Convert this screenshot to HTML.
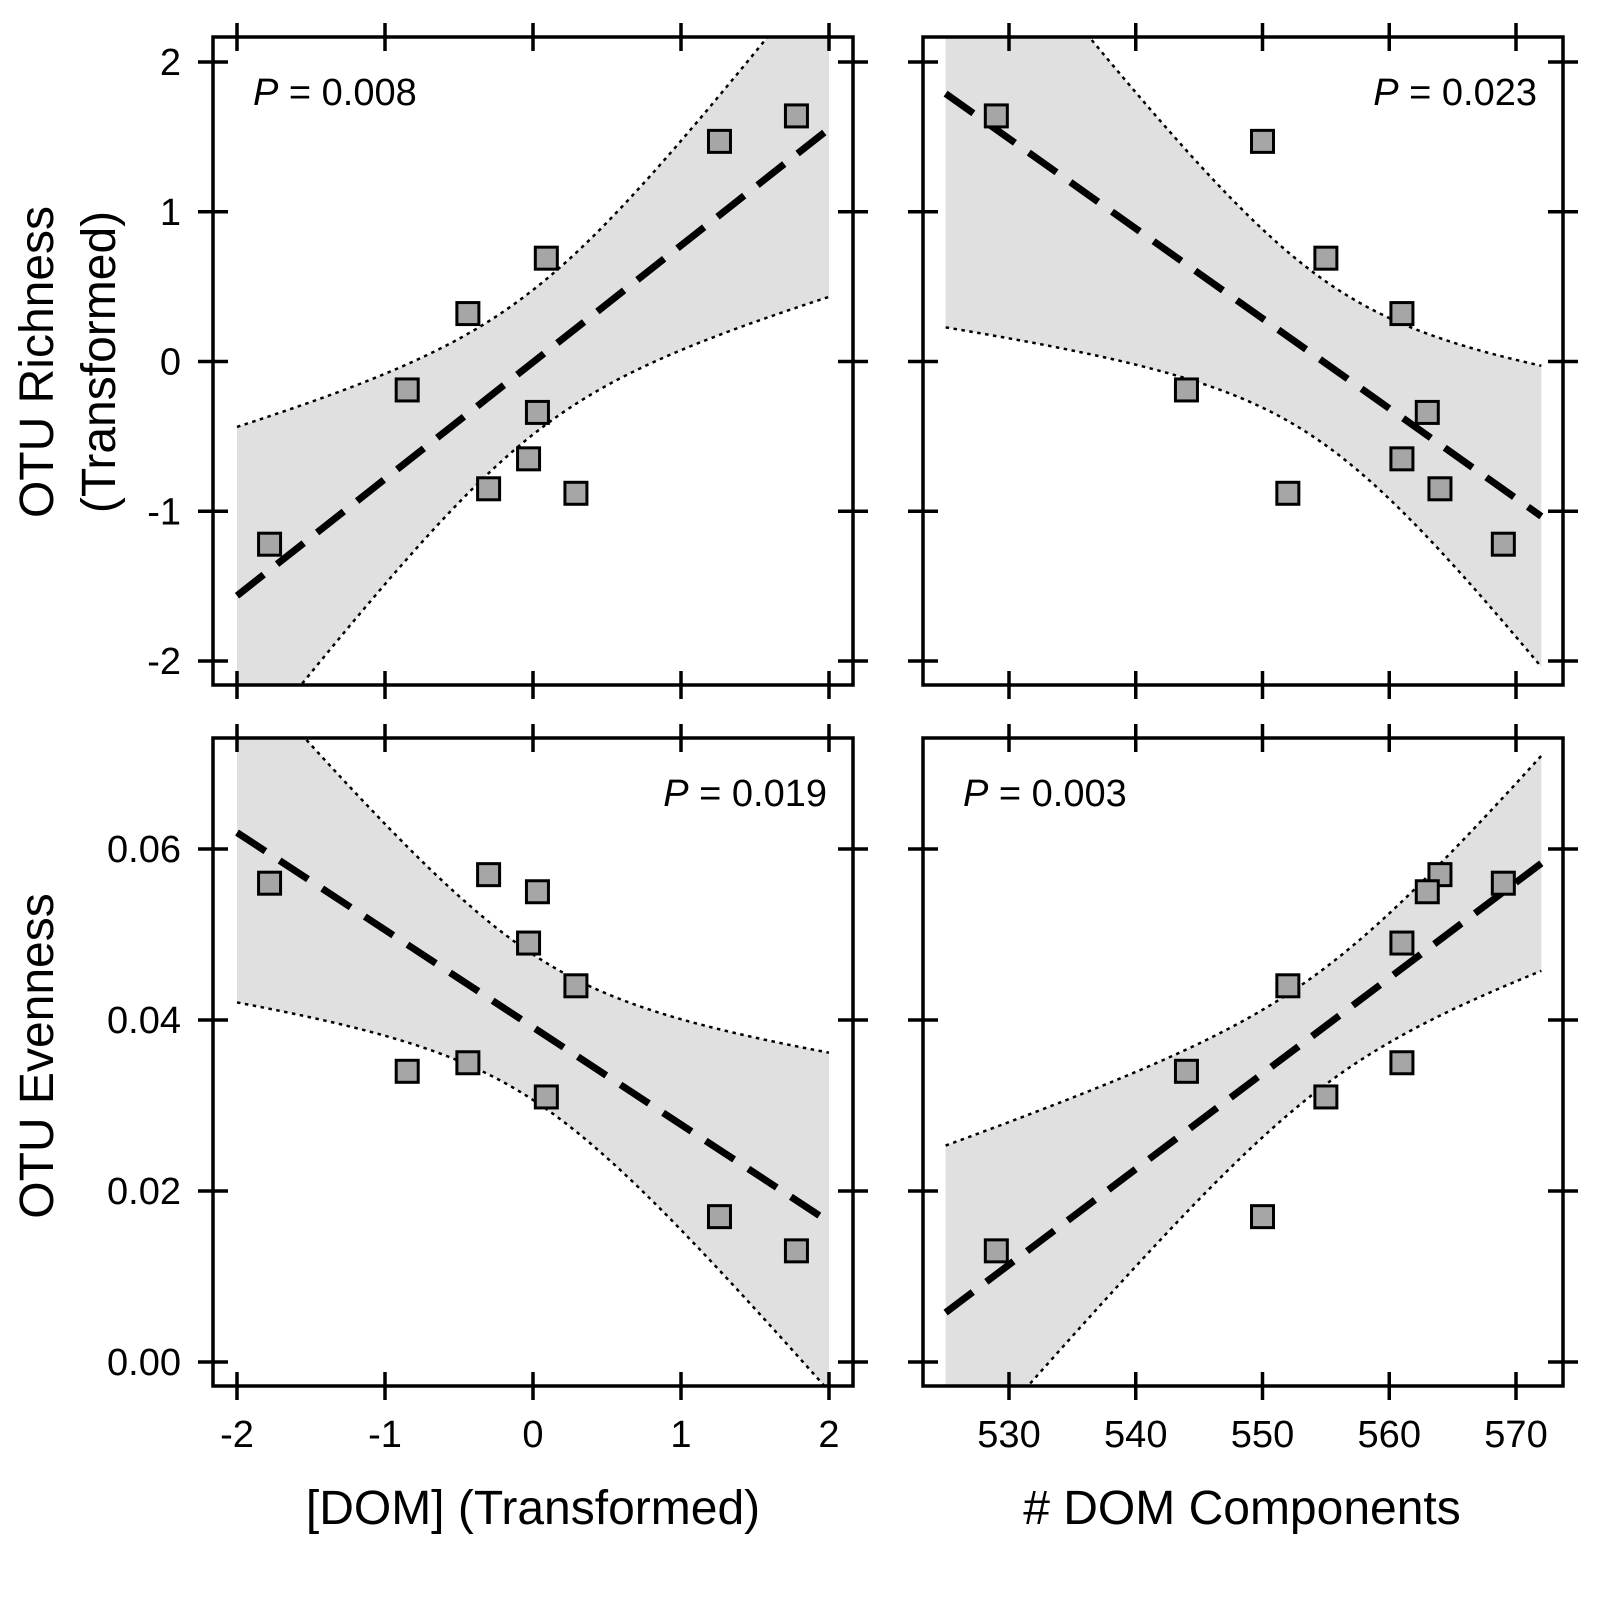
<!DOCTYPE html>
<html><head><meta charset="utf-8"><style>
html,body{margin:0;padding:0;background:#fff}
svg{display:block}
text{font-family:"Liberation Sans",Arial,sans-serif;fill:#000}
</style></head><body>
<svg id="c" width="1600" height="1600" viewBox="0 0 1600 1600" xmlns="http://www.w3.org/2000/svg"></svg>
<script>
const domConc = [-1.78,-0.85,-0.44,-0.30,-0.03,0.03,0.09,0.29,1.26,1.78];
const richness = [-1.22,-0.19,0.32,-0.85,-0.65,-0.34,0.69,-0.88,1.47,1.64];
const evenness = [0.056,0.034,0.035,0.057,0.049,0.055,0.031,0.044,0.017,0.013];
const domComp = [569,544,561,564,561,563,555,552,550,529];
const pLabels = ["0.008","0.023","0.019","0.003"];
const xTicksConc = [-2,-1,0,1,2];
const xTicksComp = [530,540,550,560,570];
const yTicksRich = [-2,-1,0,1,2];
const yTicksEven = [0,0.02,0.04,0.06];
const yTickEvenLabels = ["0.00","0.02","0.04","0.06"];

const NS="http://www.w3.org/2000/svg";
const svg=document.getElementById('c');
function mk(tag,attrs,parent){const e=document.createElementNS(NS,tag);for(const k in attrs)e.setAttribute(k,attrs[k]);(parent||svg).appendChild(e);return e;}
function lin(d0,d1,r0,r1){return v=>r0+(v-d0)*(r1-r0)/(d1-d0);}

const panels=[
 {name:'richness-vs-concentration',xs:domConc,ys:richness,L:213,R:853,T:37,B:685,sx:lin(-2,2,237,829),sy:lin(-2,2,661,62),xr:[-2,2],xt:xTicksConc,yt:yTicksRich,ytl:yTicksRich.map(String),showX:false,showY:true,p:pLabels[0],pAnchor:'start',px:253,py:105},
 {name:'richness-vs-components',xs:domComp,ys:richness,L:923,R:1563,T:37,B:685,sx:lin(530,570,1009,1516),sy:lin(-2,2,661,62),xr:[525,572],xt:xTicksComp,yt:yTicksRich,ytl:yTicksRich.map(String),showX:false,showY:false,p:pLabels[1],pAnchor:'end',px:1537,py:105},
 {name:'evenness-vs-concentration',xs:domConc,ys:evenness,L:213,R:853,T:738,B:1386,sx:lin(-2,2,237,829),sy:lin(0,0.06,1362,849),xr:[-2,2],xt:xTicksConc,yt:yTicksEven,ytl:yTickEvenLabels,showX:true,showY:true,p:pLabels[2],pAnchor:'end',px:827,py:806},
 {name:'evenness-vs-components',xs:domComp,ys:evenness,L:923,R:1563,T:738,B:1386,sx:lin(530,570,1009,1516),sy:lin(0,0.06,1362,849),xr:[525,572],xt:xTicksComp,yt:yTicksEven,ytl:yTickEvenLabels,showX:true,showY:false,p:pLabels[3],pAnchor:'start',px:963,py:806}
];

panels.forEach((P,idx)=>{
 const g=mk('g',{});
 
 
 const cid='clip'+idx;
 const cp=mk('clipPath',{id:cid},g);mk('rect',{x:P.L,y:P.T,width:P.R-P.L,height:P.B-P.T},cp);
 const n=P.xs.length;const mx=P.xs.reduce((a,b)=>a+b)/n;const my=P.ys.reduce((a,b)=>a+b)/n;
 let sxx=0,sxy=0;for(let i=0;i<n;i++){sxx+=(P.xs[i]-mx)**2;sxy+=(P.xs[i]-mx)*(P.ys[i]-my);}
 const b=sxy/sxx,a=my-b*mx;let sse=0;for(let i=0;i<n;i++)sse+=(P.ys[i]-a-b*P.xs[i])**2;
 const s=Math.sqrt(sse/(n-2)),t=2.306;
 const up=[],lo=[];
 for(let k=0;k<=80;k++){const x=P.xr[0]+(P.xr[1]-P.xr[0])*k/80;const yh=a+b*x;const se=s*Math.sqrt(1/n+(x-mx)**2/sxx);up.push([P.sx(x),P.sy(yh+t*se)]);lo.push([P.sx(x),P.sy(yh-t*se)]);}
 const cg=mk('g',{'clip-path':'url(#'+cid+')'},g);
 const band=mk('path',{d:'M'+up.map(p=>p.join(',')).join('L')+'L'+lo.slice().reverse().map(p=>p.join(',')).join('L')+'Z',fill:'#e0e0e0'},cg);
 
 
 const ub=mk('path',{d:'M'+up.map(p=>p.join(',')).join('L'),fill:'none',stroke:'#000','stroke-width':2.5,'stroke-dasharray':'3.5,4.5'},cg);
 
 
 const lb=mk('path',{d:'M'+lo.map(p=>p.join(',')).join('L'),fill:'none',stroke:'#000','stroke-width':2.5,'stroke-dasharray':'3.5,4.5'},cg);
 
 
 const rl=mk('line',{x1:P.sx(P.xr[0]),y1:P.sy(a+b*P.xr[0]),x2:P.sx(P.xr[1]),y2:P.sy(a+b*P.xr[1]),stroke:'#000','stroke-width':7,'stroke-dasharray':'34,17'},cg);
 
 
 for(let i=0;i<n;i++){
  const r=mk('rect',{x:P.sx(P.xs[i])-11,y:P.sy(P.ys[i])-11,width:22,height:22,fill:'#a6a6a6',stroke:'#000','stroke-width':3},g);
  
  
 }
 const fr=mk('rect',{x:P.L,y:P.T,width:P.R-P.L,height:P.B-P.T,fill:'none',stroke:'#000','stroke-width':3.5},g);
 
 
 P.xt.forEach(v=>{const x=P.sx(v);
  mk('line',{x1:x,y1:P.T-14,x2:x,y2:P.T+14,stroke:'#000','stroke-width':3.5},g);
  mk('line',{x1:x,y1:P.B-14,x2:x,y2:P.B+14,stroke:'#000','stroke-width':3.5},g);
  if(P.showX){const tx=mk('text',{x:x,y:1447,'font-size':38,'text-anchor':'middle'},g);tx.textContent=String(v);
   
   }
 });
 P.yt.forEach((v,j)=>{const y=P.sy(v);
  mk('line',{x1:P.L-15,y1:y,x2:P.L+15,y2:y,stroke:'#000','stroke-width':3.5},g);
  mk('line',{x1:P.R-15,y1:y,x2:P.R+15,y2:y,stroke:'#000','stroke-width':3.5},g);
  if(P.showY){const ty=mk('text',{x:181,y:y+13,'font-size':38,'text-anchor':'end'},g);ty.textContent=P.ytl[j];
   
   }
 });
 const pt=mk('text',{x:P.px,y:P.py,'font-size':38,'text-anchor':P.pAnchor},g);
 
 
 const it=mk('tspan',{'font-style':'italic'},pt);it.textContent='P';
 const rest=mk('tspan',{},pt);rest.textContent=' = '+P.p;
});

function title(txt,x,y,rot,name){const t=mk('text',{x:x,y:y,'font-size':48,'text-anchor':'middle',transform:rot?`rotate(-90 ${x} ${y})`:''});t.textContent=txt;
 
 }
title('OTU Richness',53,362,true,'y-axis-title-richness');
title('(Transformed)',115,362,true,'y-axis-title-richness-sub');
title('OTU Evenness',53,1056,true,'y-axis-title-evenness');
title('[DOM] (Transformed)',533,1524,false,'x-axis-title-concentration');
title('# DOM Components',1242,1524,false,'x-axis-title-components');
</script>
</body></html>
